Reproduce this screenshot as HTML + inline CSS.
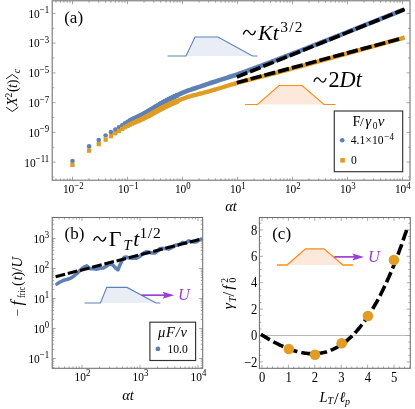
<!DOCTYPE html>
<html><head><meta charset="utf-8"><title>figure</title>
<style>
html,body{margin:0;padding:0;background:#fff;}
body{width:415px;height:409px;overflow:hidden;font-family:"Liberation Serif",serif;}
svg{display:block;will-change:transform;}
</style></head><body>
<svg width="415" height="409" viewBox="0 0 415 409">
<rect width="415" height="409" fill="#fff"/>
<rect x="52.2" y="0.8" width="357.8" height="179.39999999999998" fill="#fff" stroke="none"/>
<path d="M72.50 180.2v-3.5 M72.50 0.8v3.5 M89.06 180.2v-2 M89.06 0.8v2 M98.74 180.2v-2 M98.74 0.8v2 M105.61 180.2v-2 M105.61 0.8v2 M110.94 180.2v-2 M110.94 0.8v2 M115.30 180.2v-2 M115.30 0.8v2 M118.98 180.2v-2 M118.98 0.8v2 M122.17 180.2v-2 M122.17 0.8v2 M124.98 180.2v-2 M124.98 0.8v2 M127.50 180.2v-3.5 M127.50 0.8v3.5 M144.06 180.2v-2 M144.06 0.8v2 M153.74 180.2v-2 M153.74 0.8v2 M160.61 180.2v-2 M160.61 0.8v2 M165.94 180.2v-2 M165.94 0.8v2 M170.30 180.2v-2 M170.30 0.8v2 M173.98 180.2v-2 M173.98 0.8v2 M177.17 180.2v-2 M177.17 0.8v2 M179.98 180.2v-2 M179.98 0.8v2 M182.50 180.2v-3.5 M182.50 0.8v3.5 M199.06 180.2v-2 M199.06 0.8v2 M208.74 180.2v-2 M208.74 0.8v2 M215.61 180.2v-2 M215.61 0.8v2 M220.94 180.2v-2 M220.94 0.8v2 M225.30 180.2v-2 M225.30 0.8v2 M228.98 180.2v-2 M228.98 0.8v2 M232.17 180.2v-2 M232.17 0.8v2 M234.98 180.2v-2 M234.98 0.8v2 M237.50 180.2v-3.5 M237.50 0.8v3.5 M254.06 180.2v-2 M254.06 0.8v2 M263.74 180.2v-2 M263.74 0.8v2 M270.61 180.2v-2 M270.61 0.8v2 M275.94 180.2v-2 M275.94 0.8v2 M280.30 180.2v-2 M280.30 0.8v2 M283.98 180.2v-2 M283.98 0.8v2 M287.17 180.2v-2 M287.17 0.8v2 M289.98 180.2v-2 M289.98 0.8v2 M292.50 180.2v-3.5 M292.50 0.8v3.5 M309.06 180.2v-2 M309.06 0.8v2 M318.74 180.2v-2 M318.74 0.8v2 M325.61 180.2v-2 M325.61 0.8v2 M330.94 180.2v-2 M330.94 0.8v2 M335.30 180.2v-2 M335.30 0.8v2 M338.98 180.2v-2 M338.98 0.8v2 M342.17 180.2v-2 M342.17 0.8v2 M344.98 180.2v-2 M344.98 0.8v2 M347.50 180.2v-3.5 M347.50 0.8v3.5 M364.06 180.2v-2 M364.06 0.8v2 M373.74 180.2v-2 M373.74 0.8v2 M380.61 180.2v-2 M380.61 0.8v2 M385.94 180.2v-2 M385.94 0.8v2 M390.30 180.2v-2 M390.30 0.8v2 M393.98 180.2v-2 M393.98 0.8v2 M397.17 180.2v-2 M397.17 0.8v2 M399.98 180.2v-2 M399.98 0.8v2 M402.50 180.2v-3.5 M402.50 0.8v3.5 M55.94 180.2v-2 M55.94 0.8v2 M60.30 180.2v-2 M60.30 0.8v2 M63.98 180.2v-2 M63.98 0.8v2 M67.17 180.2v-2 M67.17 0.8v2 M69.98 180.2v-2 M69.98 0.8v2 M52.2 177.03h2 M410.0 177.03h-2 M52.2 162.15h3.5 M410.0 162.15h-3.5 M52.2 147.28h2 M410.0 147.28h-2 M52.2 132.40h3.5 M410.0 132.40h-3.5 M52.2 117.53h2 M410.0 117.53h-2 M52.2 102.65h3.5 M410.0 102.65h-3.5 M52.2 87.78h2 M410.0 87.78h-2 M52.2 72.90h3.5 M410.0 72.90h-3.5 M52.2 58.02h2 M410.0 58.02h-2 M52.2 43.15h3.5 M410.0 43.15h-3.5 M52.2 28.27h2 M410.0 28.27h-2 M52.2 13.40h3.5 M410.0 13.40h-3.5" stroke="#a0a0a0" stroke-width="0.9" fill="none"/>
<path d="M186 56 L195 37 L218 37 L252.5 56 Z" fill="#e9edf6"/>
<path d="M167.5 56 L186 56 L195 37 L218 37 L252.5 56 L257.5 56" fill="none" stroke="#5e81b5" stroke-width="1.1"/>
<path d="M257.5 104.5 L279 85.5 L302 85.5 L324 104.5 Z" fill="#fde9db"/>
<path d="M245 104.5 L257.5 104.5 L279 85.5 L302 85.5 L324 104.5 L335.5 104.5" fill="none" stroke="#ff8c1a" stroke-width="1.2"/>
<polyline points="160.0,104.1 161.6,103.2 163.3,102.3 164.9,101.4 166.5,100.5 168.1,99.7 169.8,98.9 171.4,98.1 173.0,97.3 174.7,96.5 176.3,95.7 177.9,94.9 179.5,94.2 181.2,93.4 182.8,92.7 184.4,92.0 186.1,91.4 187.7,90.7 189.3,90.1 190.9,89.6 192.6,89.0 194.2,88.5 195.8,88.0 197.4,87.4 199.1,86.9 200.7,86.4 202.3,85.8 204.0,85.2 205.6,84.7 207.2,84.1 208.8,83.6 210.5,83.0 212.1,82.5 213.7,82.0 215.4,81.5 217.0,80.9 218.6,80.4 220.2,79.9 221.9,79.4 223.5,78.9 225.1,78.4 226.8,77.9 228.4,77.3 230.0,76.8 231.6,76.3 233.3,75.8 234.9,75.2 236.5,74.7 238.2,74.1 239.8,73.5 241.4,73.0 243.0,72.4 244.7,71.8 246.3,71.2 247.9,70.6 249.6,70.0 251.2,69.4 252.8,68.8 254.4,68.2 256.1,67.6 257.7,67.0 259.3,66.4 260.9,65.8 262.6,65.2 264.2,64.5 265.8,63.9 267.5,63.3 269.1,62.7 270.7,62.1 272.3,61.4 274.0,60.8 275.6,60.2 277.2,59.6 278.9,58.9 280.5,58.3 282.1,57.7 283.7,57.1 285.4,56.4 287.0,55.8 288.6,55.2 290.3,54.6 291.9,53.9 293.5,53.3 295.1,52.7 296.8,52.1 298.4,51.4 300.0,50.8 301.7,50.2 303.3,49.5 304.9,48.9 306.5,48.3 308.2,47.6 309.8,47.0 311.4,46.3 313.0,45.7 314.7,45.1 316.3,44.4 317.9,43.8 319.6,43.1 321.2,42.5 322.8,41.9 324.4,41.2 326.1,40.6 327.7,39.9 329.3,39.3 331.0,38.6 332.6,38.0 334.2,37.3 335.8,36.7 337.5,36.1 339.1,35.4 340.7,34.8 342.4,34.1 344.0,33.5 345.6,32.8 347.2,32.2 348.9,31.5 350.5,30.9 352.1,30.2 353.8,29.6 355.4,28.9 357.0,28.3 358.6,27.6 360.3,27.0 361.9,26.3 363.5,25.7 365.2,25.0 366.8,24.4 368.4,23.7 370.0,23.1 371.7,22.4 373.3,21.8 374.9,21.1 376.5,20.5 378.2,19.8 379.8,19.2 381.4,18.5 383.1,17.9 384.7,17.3 386.3,16.6 387.9,16.0 389.6,15.3 391.2,14.7 392.8,14.0 394.5,13.4 396.1,12.7 397.7,12.1 399.3,11.4 401.0,10.8 402.6,10.2" fill="none" stroke="#5e81b5" stroke-width="4.6" stroke-linecap="round" stroke-linejoin="round"/>
<circle cx="72.5" cy="161.0" r="2.3" fill="#5e81b5"/>
<circle cx="89.1" cy="146.4" r="2.3" fill="#5e81b5"/>
<circle cx="98.7" cy="140.1" r="2.3" fill="#5e81b5"/>
<circle cx="105.6" cy="135.5" r="2.3" fill="#5e81b5"/>
<circle cx="110.9" cy="132.1" r="2.3" fill="#5e81b5"/>
<circle cx="115.3" cy="129.6" r="2.3" fill="#5e81b5"/>
<circle cx="119.0" cy="127.3" r="2.3" fill="#5e81b5"/>
<circle cx="122.2" cy="125.2" r="2.3" fill="#5e81b5"/>
<circle cx="125.0" cy="123.3" r="2.3" fill="#5e81b5"/>
<circle cx="127.5" cy="121.7" r="2.3" fill="#5e81b5"/>
<circle cx="129.8" cy="120.4" r="2.3" fill="#5e81b5"/>
<circle cx="131.9" cy="119.3" r="2.3" fill="#5e81b5"/>
<circle cx="133.8" cy="118.4" r="2.3" fill="#5e81b5"/>
<circle cx="135.5" cy="117.6" r="2.3" fill="#5e81b5"/>
<circle cx="137.2" cy="116.9" r="2.3" fill="#5e81b5"/>
<circle cx="138.7" cy="116.1" r="2.3" fill="#5e81b5"/>
<circle cx="140.2" cy="115.4" r="2.3" fill="#5e81b5"/>
<circle cx="141.5" cy="114.7" r="2.3" fill="#5e81b5"/>
<circle cx="142.8" cy="114.0" r="2.3" fill="#5e81b5"/>
<circle cx="144.1" cy="113.3" r="2.3" fill="#5e81b5"/>
<circle cx="145.2" cy="112.7" r="2.3" fill="#5e81b5"/>
<circle cx="146.3" cy="112.1" r="2.3" fill="#5e81b5"/>
<circle cx="147.4" cy="111.5" r="2.3" fill="#5e81b5"/>
<circle cx="148.4" cy="110.9" r="2.3" fill="#5e81b5"/>
<circle cx="149.4" cy="110.3" r="2.3" fill="#5e81b5"/>
<circle cx="150.3" cy="109.8" r="2.3" fill="#5e81b5"/>
<circle cx="151.2" cy="109.2" r="2.3" fill="#5e81b5"/>
<circle cx="152.1" cy="108.7" r="2.3" fill="#5e81b5"/>
<circle cx="152.9" cy="108.2" r="2.3" fill="#5e81b5"/>
<circle cx="153.7" cy="107.8" r="2.3" fill="#5e81b5"/>
<circle cx="154.5" cy="107.3" r="2.3" fill="#5e81b5"/>
<circle cx="155.3" cy="106.9" r="2.3" fill="#5e81b5"/>
<circle cx="156.0" cy="106.4" r="2.3" fill="#5e81b5"/>
<circle cx="156.7" cy="106.0" r="2.3" fill="#5e81b5"/>
<circle cx="157.4" cy="105.6" r="2.3" fill="#5e81b5"/>
<circle cx="158.1" cy="105.2" r="2.3" fill="#5e81b5"/>
<circle cx="158.8" cy="104.8" r="2.3" fill="#5e81b5"/>
<circle cx="159.4" cy="104.5" r="2.3" fill="#5e81b5"/>
<circle cx="160.0" cy="104.1" r="2.3" fill="#5e81b5"/>
<circle cx="160.6" cy="103.8" r="2.3" fill="#5e81b5"/>
<circle cx="161.2" cy="103.4" r="2.3" fill="#5e81b5"/>
<circle cx="161.8" cy="103.1" r="2.3" fill="#5e81b5"/>
<circle cx="162.3" cy="102.8" r="2.3" fill="#5e81b5"/>
<circle cx="162.9" cy="102.5" r="2.3" fill="#5e81b5"/>
<circle cx="163.4" cy="102.2" r="2.3" fill="#5e81b5"/>
<circle cx="164.0" cy="101.9" r="2.3" fill="#5e81b5"/>
<circle cx="164.5" cy="101.6" r="2.3" fill="#5e81b5"/>
<circle cx="165.0" cy="101.3" r="2.3" fill="#5e81b5"/>
<circle cx="165.5" cy="101.1" r="2.3" fill="#5e81b5"/>
<circle cx="165.9" cy="100.8" r="2.3" fill="#5e81b5"/>
<circle cx="166.4" cy="100.6" r="2.3" fill="#5e81b5"/>
<circle cx="166.9" cy="100.3" r="2.3" fill="#5e81b5"/>
<circle cx="167.3" cy="100.1" r="2.3" fill="#5e81b5"/>
<circle cx="167.8" cy="99.9" r="2.3" fill="#5e81b5"/>
<circle cx="168.2" cy="99.6" r="2.3" fill="#5e81b5"/>
<circle cx="168.7" cy="99.4" r="2.3" fill="#5e81b5"/>
<circle cx="169.1" cy="99.2" r="2.3" fill="#5e81b5"/>
<circle cx="169.5" cy="99.0" r="2.3" fill="#5e81b5"/>
<circle cx="169.9" cy="98.8" r="2.3" fill="#5e81b5"/>
<circle cx="170.3" cy="98.6" r="2.3" fill="#5e81b5"/>
<circle cx="170.7" cy="98.4" r="2.3" fill="#5e81b5"/>
<circle cx="171.1" cy="98.2" r="2.3" fill="#5e81b5"/>
<circle cx="171.5" cy="98.0" r="2.3" fill="#5e81b5"/>
<circle cx="171.8" cy="97.8" r="2.3" fill="#5e81b5"/>
<circle cx="172.2" cy="97.7" r="2.3" fill="#5e81b5"/>
<circle cx="172.6" cy="97.5" r="2.3" fill="#5e81b5"/>
<circle cx="172.9" cy="97.3" r="2.3" fill="#5e81b5"/>
<circle cx="173.3" cy="97.1" r="2.3" fill="#5e81b5"/>
<circle cx="173.6" cy="97.0" r="2.3" fill="#5e81b5"/>
<circle cx="174.0" cy="96.8" r="2.3" fill="#5e81b5"/>
<circle cx="174.3" cy="96.6" r="2.3" fill="#5e81b5"/>
<circle cx="174.7" cy="96.5" r="2.3" fill="#5e81b5"/>
<circle cx="175.0" cy="96.3" r="2.3" fill="#5e81b5"/>
<circle cx="175.3" cy="96.2" r="2.3" fill="#5e81b5"/>
<circle cx="175.6" cy="96.0" r="2.3" fill="#5e81b5"/>
<circle cx="175.9" cy="95.9" r="2.3" fill="#5e81b5"/>
<circle cx="176.3" cy="95.7" r="2.3" fill="#5e81b5"/>
<circle cx="176.6" cy="95.6" r="2.3" fill="#5e81b5"/>
<circle cx="176.9" cy="95.4" r="2.3" fill="#5e81b5"/>
<circle cx="177.2" cy="95.3" r="2.3" fill="#5e81b5"/>
<polyline points="160.0,109.3 161.6,108.4 163.3,107.6 164.9,106.7 166.5,105.9 168.1,105.2 169.8,104.4 171.4,103.7 173.0,102.9 174.7,102.2 176.3,101.5 177.9,100.8 179.5,100.1 181.2,99.4 182.8,98.8 184.4,98.2 186.1,97.6 187.7,97.0 189.3,96.5 190.9,96.1 192.6,95.6 194.2,95.2 195.8,94.8 197.4,94.4 199.1,93.9 200.7,93.5 202.3,93.1 204.0,92.6 205.6,92.2 207.2,91.8 208.8,91.3 210.5,90.9 212.1,90.4 213.7,89.9 215.4,89.5 217.0,89.0 218.6,88.5 220.2,88.0 221.9,87.5 223.5,87.0 225.1,86.5 226.8,86.0 228.4,85.5 230.0,85.0 231.6,84.5 233.3,84.1 234.9,83.6 236.5,83.1 238.2,82.7 239.8,82.2 241.4,81.8 243.0,81.4 244.7,80.9 246.3,80.5 247.9,80.1 249.6,79.6 251.2,79.2 252.8,78.8 254.4,78.4 256.1,78.0 257.7,77.5 259.3,77.1 260.9,76.7 262.6,76.3 264.2,75.9 265.8,75.5 267.5,75.1 269.1,74.6 270.7,74.2 272.3,73.8 274.0,73.4 275.6,73.0 277.2,72.5 278.9,72.1 280.5,71.7 282.1,71.2 283.7,70.8 285.4,70.4 287.0,69.9 288.6,69.5 290.3,69.1 291.9,68.6 293.5,68.2 295.1,67.7 296.8,67.3 298.4,66.9 300.0,66.4 301.7,66.0 303.3,65.5 304.9,65.1 306.5,64.6 308.2,64.2 309.8,63.8 311.4,63.3 313.0,62.9 314.7,62.4 316.3,62.0 317.9,61.5 319.6,61.1 321.2,60.6 322.8,60.2 324.4,59.7 326.1,59.3 327.7,58.8 329.3,58.4 331.0,57.9 332.6,57.5 334.2,57.0 335.8,56.6 337.5,56.1 339.1,55.7 340.7,55.2 342.4,54.8 344.0,54.3 345.6,53.9 347.2,53.4 348.9,53.0 350.5,52.5 352.1,52.1 353.8,51.6 355.4,51.2 357.0,50.7 358.6,50.3 360.3,49.8 361.9,49.4 363.5,48.9 365.2,48.5 366.8,48.0 368.4,47.6 370.0,47.1 371.7,46.7 373.3,46.2 374.9,45.8 376.5,45.3 378.2,44.9 379.8,44.4 381.4,44.0 383.1,43.5 384.7,43.1 386.3,42.6 387.9,42.2 389.6,41.7 391.2,41.3 392.8,40.8 394.5,40.4 396.1,39.9 397.7,39.5 399.3,39.0 401.0,38.6 402.6,38.1" fill="none" stroke="#e19c24" stroke-width="4.4" stroke-linecap="square" stroke-linejoin="round"/>
<rect x="70.3" y="162.7" width="4.3" height="4.3" fill="#e19c24"/>
<rect x="86.9" y="148.5" width="4.3" height="4.3" fill="#e19c24"/>
<rect x="96.6" y="142.0" width="4.3" height="4.3" fill="#e19c24"/>
<rect x="103.5" y="137.5" width="4.3" height="4.3" fill="#e19c24"/>
<rect x="108.8" y="134.0" width="4.3" height="4.3" fill="#e19c24"/>
<rect x="113.1" y="131.1" width="4.3" height="4.3" fill="#e19c24"/>
<rect x="116.8" y="128.8" width="4.3" height="4.3" fill="#e19c24"/>
<rect x="120.0" y="126.8" width="4.3" height="4.3" fill="#e19c24"/>
<rect x="122.8" y="125.1" width="4.3" height="4.3" fill="#e19c24"/>
<rect x="125.3" y="123.7" width="4.3" height="4.3" fill="#e19c24"/>
<rect x="127.6" y="122.5" width="4.3" height="4.3" fill="#e19c24"/>
<rect x="129.7" y="121.5" width="4.3" height="4.3" fill="#e19c24"/>
<rect x="131.6" y="120.6" width="4.3" height="4.3" fill="#e19c24"/>
<rect x="133.4" y="119.9" width="4.3" height="4.3" fill="#e19c24"/>
<rect x="135.0" y="119.2" width="4.3" height="4.3" fill="#e19c24"/>
<rect x="136.6" y="118.5" width="4.3" height="4.3" fill="#e19c24"/>
<rect x="138.0" y="117.9" width="4.3" height="4.3" fill="#e19c24"/>
<rect x="139.4" y="117.2" width="4.3" height="4.3" fill="#e19c24"/>
<rect x="140.7" y="116.6" width="4.3" height="4.3" fill="#e19c24"/>
<rect x="141.9" y="115.9" width="4.3" height="4.3" fill="#e19c24"/>
<rect x="143.1" y="115.3" width="4.3" height="4.3" fill="#e19c24"/>
<rect x="144.2" y="114.7" width="4.3" height="4.3" fill="#e19c24"/>
<rect x="145.2" y="114.2" width="4.3" height="4.3" fill="#e19c24"/>
<rect x="146.3" y="113.6" width="4.3" height="4.3" fill="#e19c24"/>
<rect x="147.2" y="113.1" width="4.3" height="4.3" fill="#e19c24"/>
<rect x="148.2" y="112.6" width="4.3" height="4.3" fill="#e19c24"/>
<rect x="149.1" y="112.1" width="4.3" height="4.3" fill="#e19c24"/>
<rect x="149.9" y="111.6" width="4.3" height="4.3" fill="#e19c24"/>
<rect x="150.8" y="111.1" width="4.3" height="4.3" fill="#e19c24"/>
<rect x="151.6" y="110.6" width="4.3" height="4.3" fill="#e19c24"/>
<rect x="152.4" y="110.2" width="4.3" height="4.3" fill="#e19c24"/>
<rect x="153.1" y="109.8" width="4.3" height="4.3" fill="#e19c24"/>
<rect x="153.9" y="109.4" width="4.3" height="4.3" fill="#e19c24"/>
<rect x="154.6" y="109.0" width="4.3" height="4.3" fill="#e19c24"/>
<rect x="155.3" y="108.6" width="4.3" height="4.3" fill="#e19c24"/>
<rect x="155.9" y="108.2" width="4.3" height="4.3" fill="#e19c24"/>
<rect x="156.6" y="107.9" width="4.3" height="4.3" fill="#e19c24"/>
<rect x="157.2" y="107.5" width="4.3" height="4.3" fill="#e19c24"/>
<rect x="157.9" y="107.2" width="4.3" height="4.3" fill="#e19c24"/>
<rect x="158.5" y="106.8" width="4.3" height="4.3" fill="#e19c24"/>
<rect x="159.1" y="106.5" width="4.3" height="4.3" fill="#e19c24"/>
<rect x="159.6" y="106.2" width="4.3" height="4.3" fill="#e19c24"/>
<rect x="160.2" y="105.9" width="4.3" height="4.3" fill="#e19c24"/>
<rect x="160.7" y="105.6" width="4.3" height="4.3" fill="#e19c24"/>
<rect x="161.3" y="105.3" width="4.3" height="4.3" fill="#e19c24"/>
<rect x="161.8" y="105.1" width="4.3" height="4.3" fill="#e19c24"/>
<rect x="162.3" y="104.8" width="4.3" height="4.3" fill="#e19c24"/>
<rect x="162.8" y="104.6" width="4.3" height="4.3" fill="#e19c24"/>
<rect x="163.3" y="104.3" width="4.3" height="4.3" fill="#e19c24"/>
<rect x="163.8" y="104.1" width="4.3" height="4.3" fill="#e19c24"/>
<rect x="164.3" y="103.8" width="4.3" height="4.3" fill="#e19c24"/>
<rect x="164.7" y="103.6" width="4.3" height="4.3" fill="#e19c24"/>
<rect x="165.2" y="103.4" width="4.3" height="4.3" fill="#e19c24"/>
<rect x="165.6" y="103.2" width="4.3" height="4.3" fill="#e19c24"/>
<rect x="166.1" y="103.0" width="4.3" height="4.3" fill="#e19c24"/>
<rect x="166.5" y="102.8" width="4.3" height="4.3" fill="#e19c24"/>
<rect x="166.9" y="102.6" width="4.3" height="4.3" fill="#e19c24"/>
<rect x="167.3" y="102.4" width="4.3" height="4.3" fill="#e19c24"/>
<rect x="167.7" y="102.2" width="4.3" height="4.3" fill="#e19c24"/>
<rect x="168.1" y="102.0" width="4.3" height="4.3" fill="#e19c24"/>
<rect x="168.5" y="101.8" width="4.3" height="4.3" fill="#e19c24"/>
<rect x="168.9" y="101.7" width="4.3" height="4.3" fill="#e19c24"/>
<rect x="169.3" y="101.5" width="4.3" height="4.3" fill="#e19c24"/>
<rect x="169.7" y="101.3" width="4.3" height="4.3" fill="#e19c24"/>
<rect x="170.1" y="101.1" width="4.3" height="4.3" fill="#e19c24"/>
<rect x="170.4" y="101.0" width="4.3" height="4.3" fill="#e19c24"/>
<rect x="170.8" y="100.8" width="4.3" height="4.3" fill="#e19c24"/>
<rect x="171.1" y="100.7" width="4.3" height="4.3" fill="#e19c24"/>
<rect x="171.5" y="100.5" width="4.3" height="4.3" fill="#e19c24"/>
<rect x="171.8" y="100.3" width="4.3" height="4.3" fill="#e19c24"/>
<rect x="172.2" y="100.2" width="4.3" height="4.3" fill="#e19c24"/>
<rect x="172.5" y="100.0" width="4.3" height="4.3" fill="#e19c24"/>
<rect x="172.8" y="99.9" width="4.3" height="4.3" fill="#e19c24"/>
<rect x="173.2" y="99.8" width="4.3" height="4.3" fill="#e19c24"/>
<rect x="173.5" y="99.6" width="4.3" height="4.3" fill="#e19c24"/>
<rect x="173.8" y="99.5" width="4.3" height="4.3" fill="#e19c24"/>
<rect x="174.1" y="99.3" width="4.3" height="4.3" fill="#e19c24"/>
<rect x="174.4" y="99.2" width="4.3" height="4.3" fill="#e19c24"/>
<rect x="174.7" y="99.1" width="4.3" height="4.3" fill="#e19c24"/>
<rect x="175.0" y="98.9" width="4.3" height="4.3" fill="#e19c24"/>
<line x1="236.8" y1="77" x2="404.6" y2="9.3" stroke="#000" stroke-width="3.7" stroke-dasharray="11.3 2.95"/>
<line x1="236.8" y1="82.7" x2="401.5" y2="38.4" stroke="#000" stroke-width="3.7" stroke-dasharray="11.3 2.95"/>
<rect x="52.2" y="0.8" width="357.8" height="179.39999999999998" fill="none" stroke="#6e6e6e" stroke-width="1.05"/>
<text transform="translate(73.3,193.2) scale(0.95,1.12)" font-family="Liberation Serif, serif" font-size="12" text-anchor="middle" fill="#000">10<tspan font-size="9.3" dy="-3.9">−2</tspan></text>
<text transform="translate(128.3,193.2) scale(0.95,1.12)" font-family="Liberation Serif, serif" font-size="12" text-anchor="middle" fill="#000">10<tspan font-size="9.3" dy="-3.9">−1</tspan></text>
<text transform="translate(182.8,193.2) scale(0.95,1.12)" font-family="Liberation Serif, serif" font-size="12" text-anchor="middle" fill="#000">10<tspan font-size="9.3" dy="-3.9">0</tspan></text>
<text transform="translate(237.8,193.2) scale(0.95,1.12)" font-family="Liberation Serif, serif" font-size="12" text-anchor="middle" fill="#000">10<tspan font-size="9.3" dy="-3.9">1</tspan></text>
<text transform="translate(292.8,193.2) scale(0.95,1.12)" font-family="Liberation Serif, serif" font-size="12" text-anchor="middle" fill="#000">10<tspan font-size="9.3" dy="-3.9">2</tspan></text>
<text transform="translate(347.8,193.2) scale(0.95,1.12)" font-family="Liberation Serif, serif" font-size="12" text-anchor="middle" fill="#000">10<tspan font-size="9.3" dy="-3.9">3</tspan></text>
<text transform="translate(402.8,193.2) scale(0.95,1.12)" font-family="Liberation Serif, serif" font-size="12" text-anchor="middle" fill="#000">10<tspan font-size="9.3" dy="-3.9">4</tspan></text>
<text transform="translate(49.2,166.5) scale(0.95,1.12)" font-family="Liberation Serif, serif" font-size="12" text-anchor="end" fill="#000">10<tspan font-size="9.3" dy="-3.9">−11</tspan></text>
<text transform="translate(49.2,136.7) scale(0.95,1.12)" font-family="Liberation Serif, serif" font-size="12" text-anchor="end" fill="#000">10<tspan font-size="9.3" dy="-3.9">−9</tspan></text>
<text transform="translate(49.2,107.0) scale(0.95,1.12)" font-family="Liberation Serif, serif" font-size="12" text-anchor="end" fill="#000">10<tspan font-size="9.3" dy="-3.9">−7</tspan></text>
<text transform="translate(49.2,77.2) scale(0.95,1.12)" font-family="Liberation Serif, serif" font-size="12" text-anchor="end" fill="#000">10<tspan font-size="9.3" dy="-3.9">−5</tspan></text>
<text transform="translate(49.2,47.4) scale(0.95,1.12)" font-family="Liberation Serif, serif" font-size="12" text-anchor="end" fill="#000">10<tspan font-size="9.3" dy="-3.9">−3</tspan></text>
<text transform="translate(49.2,17.7) scale(0.95,1.12)" font-family="Liberation Serif, serif" font-size="12" text-anchor="end" fill="#000">10<tspan font-size="9.3" dy="-3.9">−1</tspan></text>
<text x="64.2" y="22.6" font-family="Liberation Serif, serif" font-size="17" fill="#000">(a)</text>
<text x="231" y="211.3" font-family="Liberation Serif, serif" font-size="14.5" font-style="italic" text-anchor="middle" fill="#000">αt</text>
<g transform="translate(16.5,112.2) rotate(-90)" font-family="Liberation Serif, serif" font-size="14" fill="#000"><path d="M5 -10.3 L0.7 -4.2 L5 1.9 M33.4 -10.3 L37.7 -4.2 L33.4 1.9" fill="none" stroke="#000" stroke-width="0.9"/><text x="6.2" y="0" font-style="italic">X</text><text x="14.6" y="-5" font-size="9.5">2</text><text x="20.3" y="0">(</text><text x="24.3" y="0" font-style="italic">t</text><text x="28" y="0">)</text><text x="39" y="3" font-size="10" font-style="italic">c</text></g>
<text y="39.5" font-family="Liberation Serif, serif" font-size="22" fill="#000"><tspan x="258" font-style="italic">Kt</tspan><tspan x="280.2" y="32" font-size="15.5" letter-spacing="1.2">3/2</tspan></text>
<text y="86.5" font-family="Liberation Serif, serif" font-size="22.3" fill="#000"><tspan x="328.6">2</tspan><tspan x="339.6" font-style="italic">Dt</tspan></text>
<path d="M243.30 34.44 C245.01 29.15 247.57 29.73 249.40 32.60 C251.23 35.48 253.79 36.05 255.50 30.76" fill="none" stroke="#000" stroke-width="1.25"/>
<path d="M313.90 81.84 C315.61 76.55 318.17 77.12 320.00 80.00 C321.83 82.88 324.39 83.45 326.10 78.16" fill="none" stroke="#000" stroke-width="1.25"/>
<path d="M93.70 240.74 C95.41 235.45 97.97 236.03 99.80 238.90 C101.63 241.78 104.19 242.35 105.90 237.06" fill="none" stroke="#000" stroke-width="1.25"/>
<rect x="334.3" y="111" width="68.4" height="60.7" fill="#fff" stroke="#333" stroke-width="1.15"/>
<text y="126" font-family="Liberation Serif, serif" font-size="13.5" fill="#000"><tspan x="352.6" font-size="14.5">F</tspan><tspan x="360">/</tspan><tspan x="365.3" font-style="italic" font-size="15">γ</tspan><tspan x="372.7" font-size="9.5" dy="3">0</tspan><tspan x="377.8" dy="-3" font-style="italic" font-size="15">v</tspan></text>
<circle cx="342.2" cy="140.2" r="2.3" fill="#5e81b5"/>
<text transform="translate(350.8,143.9) scale(0.97,1.1)" font-family="Liberation Serif, serif" font-size="12" fill="#000">4.1×10<tspan font-size="9.3" dy="-4" dx="0.8">−4</tspan></text>
<rect x="340.3" y="158" width="4.6" height="4.6" fill="#e19c24"/>
<text transform="translate(351,164.2) scale(0.97,1.1)" font-family="Liberation Serif, serif" font-size="12" fill="#000">0</text>
<path d="M58.92 368.3v-2 M58.92 217.5v2 M64.54 368.3v-2 M64.54 217.5v2 M69.13 368.3v-2 M69.13 217.5v2 M73.02 368.3v-2 M73.02 217.5v2 M76.38 368.3v-2 M76.38 217.5v2 M79.35 368.3v-2 M79.35 217.5v2 M82.00 368.3v-3.5 M82.00 217.5v3.5 M99.46 368.3v-2 M99.46 217.5v2 M109.67 368.3v-2 M109.67 217.5v2 M116.92 368.3v-2 M116.92 217.5v2 M122.54 368.3v-2 M122.54 217.5v2 M127.13 368.3v-2 M127.13 217.5v2 M131.02 368.3v-2 M131.02 217.5v2 M134.38 368.3v-2 M134.38 217.5v2 M137.35 368.3v-2 M137.35 217.5v2 M140.00 368.3v-3.5 M140.00 217.5v3.5 M157.46 368.3v-2 M157.46 217.5v2 M167.67 368.3v-2 M167.67 217.5v2 M174.92 368.3v-2 M174.92 217.5v2 M180.54 368.3v-2 M180.54 217.5v2 M185.13 368.3v-2 M185.13 217.5v2 M189.02 368.3v-2 M189.02 217.5v2 M192.38 368.3v-2 M192.38 217.5v2 M195.35 368.3v-2 M195.35 217.5v2 M198.00 368.3v-3.5 M198.00 217.5v3.5 M52.2 367.53h2 M202.7 367.53h-2 M52.2 365.16h2 M202.7 365.16h-2 M52.2 363.15h2 M202.7 363.15h-2 M52.2 361.41h2 M202.7 361.41h-2 M52.2 359.87h2 M202.7 359.87h-2 M52.2 358.50h3.5 M202.7 358.50h-3.5 M52.2 349.47h2 M202.7 349.47h-2 M52.2 344.19h2 M202.7 344.19h-2 M52.2 340.44h2 M202.7 340.44h-2 M52.2 337.53h2 M202.7 337.53h-2 M52.2 335.16h2 M202.7 335.16h-2 M52.2 333.15h2 M202.7 333.15h-2 M52.2 331.41h2 M202.7 331.41h-2 M52.2 329.87h2 M202.7 329.87h-2 M52.2 328.50h3.5 M202.7 328.50h-3.5 M52.2 319.47h2 M202.7 319.47h-2 M52.2 314.19h2 M202.7 314.19h-2 M52.2 310.44h2 M202.7 310.44h-2 M52.2 307.53h2 M202.7 307.53h-2 M52.2 305.16h2 M202.7 305.16h-2 M52.2 303.15h2 M202.7 303.15h-2 M52.2 301.41h2 M202.7 301.41h-2 M52.2 299.87h2 M202.7 299.87h-2 M52.2 298.50h3.5 M202.7 298.50h-3.5 M52.2 289.47h2 M202.7 289.47h-2 M52.2 284.19h2 M202.7 284.19h-2 M52.2 280.44h2 M202.7 280.44h-2 M52.2 277.53h2 M202.7 277.53h-2 M52.2 275.16h2 M202.7 275.16h-2 M52.2 273.15h2 M202.7 273.15h-2 M52.2 271.41h2 M202.7 271.41h-2 M52.2 269.87h2 M202.7 269.87h-2 M52.2 268.50h3.5 M202.7 268.50h-3.5 M52.2 259.47h2 M202.7 259.47h-2 M52.2 254.19h2 M202.7 254.19h-2 M52.2 250.44h2 M202.7 250.44h-2 M52.2 247.53h2 M202.7 247.53h-2 M52.2 245.16h2 M202.7 245.16h-2 M52.2 243.15h2 M202.7 243.15h-2 M52.2 241.41h2 M202.7 241.41h-2 M52.2 239.87h2 M202.7 239.87h-2 M52.2 238.50h3.5 M202.7 238.50h-3.5 M52.2 229.47h2 M202.7 229.47h-2 M52.2 224.19h2 M202.7 224.19h-2 M52.2 220.44h2 M202.7 220.44h-2 M52.2 217.53h2 M202.7 217.53h-2" stroke="#a0a0a0" stroke-width="0.9" fill="none"/>
<path d="M100.4 303 L106.8 287.4 L127 287.4 L156 303 Z" fill="#e9edf6"/>
<path d="M84.5 303 L100.4 303 L106.8 287.4 L127 287.4 L156 303 L160.3 303" fill="none" stroke="#5e81b5" stroke-width="1.1"/>
<path d="M141.5 295.2 H166" stroke="#9c3cd8" stroke-width="1.7" fill="none"/>
<path d="M174.2 295.2 L162.5 291.7 L164.8 295.2 L162.5 298.7 Z" fill="#9c3cd8"/>
<text x="178.1" y="300.4" font-family="Liberation Serif, serif" font-size="16.3" font-style="italic" fill="#9c3cd8">U</text>
<polyline points="56.8,284.1 60,282 63.6,280.3 67,279.5 71.3,277.8 74,276 77,273.5 79.5,271 81.9,268.7 84,267 86.7,265.8 88.5,267.5 90.5,268.7 93,268.6 96.3,269.3 100,268.2 103,268.1 106,266.5 109.8,263.9 112,264.5 113.7,265.8 116,268.5 117.9,270 119.5,266 122.3,260 124,257.5 126,257.0 128,257.7 130,258.0 133,258.3 136.6,258.2 140,256.3 143,253.6 146,251.8 148,252.0 150,252.6 152.5,253.0 155,253.0 158,250.7 160,248.5 162.5,248.6 165,248.6 169,248.9 173,246.9 176,245.0 178,245.2 180.5,243.8 183,242.4 186,242.9 188.6,240.8 190.5,241.5 192,241.7 194.5,241.9 197,241.7 199,240.2 201,239.1" fill="none" stroke="#5e81b5" stroke-width="3.5" stroke-linecap="round" stroke-linejoin="round"/>
<line x1="55.6" y1="276.7" x2="201.2" y2="239" stroke="#000" stroke-width="3.1" stroke-dasharray="9.8 2.8"/>
<rect x="52.2" y="217.5" width="150.5" height="150.8" fill="none" stroke="#6e6e6e" stroke-width="1.05"/>
<text transform="translate(82.4,380.8) scale(0.95,1.12)" font-family="Liberation Serif, serif" font-size="12" text-anchor="middle" fill="#000">10<tspan font-size="9.3" dy="-3.9">2</tspan></text>
<text transform="translate(140.4,380.8) scale(0.95,1.12)" font-family="Liberation Serif, serif" font-size="12" text-anchor="middle" fill="#000">10<tspan font-size="9.3" dy="-3.9">3</tspan></text>
<text transform="translate(198.4,380.8) scale(0.95,1.12)" font-family="Liberation Serif, serif" font-size="12" text-anchor="middle" fill="#000">10<tspan font-size="9.3" dy="-3.9">4</tspan></text>
<text transform="translate(49.2,362.8) scale(0.95,1.12)" font-family="Liberation Serif, serif" font-size="12" text-anchor="end" fill="#000">10<tspan font-size="9.3" dy="-3.9">−1</tspan></text>
<text transform="translate(49.2,332.8) scale(0.95,1.12)" font-family="Liberation Serif, serif" font-size="12" text-anchor="end" fill="#000">10<tspan font-size="9.3" dy="-3.9">0</tspan></text>
<text transform="translate(49.2,302.8) scale(0.95,1.12)" font-family="Liberation Serif, serif" font-size="12" text-anchor="end" fill="#000">10<tspan font-size="9.3" dy="-3.9">1</tspan></text>
<text transform="translate(49.2,272.8) scale(0.95,1.12)" font-family="Liberation Serif, serif" font-size="12" text-anchor="end" fill="#000">10<tspan font-size="9.3" dy="-3.9">2</tspan></text>
<text transform="translate(49.2,242.8) scale(0.95,1.12)" font-family="Liberation Serif, serif" font-size="12" text-anchor="end" fill="#000">10<tspan font-size="9.3" dy="-3.9">3</tspan></text>
<text x="64.6" y="239.2" font-family="Liberation Serif, serif" font-size="17" fill="#000">(b)</text>
<text x="128" y="399.7" font-family="Liberation Serif, serif" font-size="14.5" font-style="italic" text-anchor="middle" fill="#000">αt</text>
<g transform="translate(21.8,316.3) rotate(-90)" font-family="Liberation Serif, serif" font-size="14.5" fill="#000"><text x="-0.3" y="0" font-size="13">−</text><text x="10.8" y="0" font-style="italic" font-size="17">f</text><text x="18.2" y="3.6" font-size="10" textLength="11.2" lengthAdjust="spacingAndGlyphs">fric</text><text x="30.4" y="0">(</text><text x="35.8" y="0" font-style="italic">t</text><text x="39.9" y="0">)</text><text x="44.6" y="0" font-size="15.5">/</text><text x="48.7" y="0" font-style="italic">U</text></g>
<text y="245.8" font-family="Liberation Serif, serif" font-size="22" fill="#000"><tspan x="108.7">Γ</tspan><tspan x="123.6" y="249.7" font-size="14.5" font-style="italic">T</tspan><tspan x="133.2" y="245.8" font-style="italic">t</tspan><tspan x="139.4" y="238.1" font-size="15.5" letter-spacing="0.8">1/2</tspan></text>
<rect x="149.9" y="322.2" width="45.7" height="38.3" fill="#fff" stroke="#333" stroke-width="1.15"/>
<text x="158" y="336.9" font-family="Liberation Serif, serif" font-size="14.5" font-style="italic" letter-spacing="0.8" fill="#000">μF/ν</text>
<circle cx="157.9" cy="348.9" r="2.4" fill="#5e81b5"/>
<text transform="translate(167.4,352.8) scale(0.97,1.1)" font-family="Liberation Serif, serif" font-size="12" fill="#000">10.0</text>
<path d="M262.00 368.3v-3.5 M262.00 217.5v3.5 M267.28 368.3v-2 M267.28 217.5v2 M272.56 368.3v-2 M272.56 217.5v2 M277.84 368.3v-2 M277.84 217.5v2 M283.12 368.3v-2 M283.12 217.5v2 M288.40 368.3v-3.5 M288.40 217.5v3.5 M293.68 368.3v-2 M293.68 217.5v2 M298.96 368.3v-2 M298.96 217.5v2 M304.24 368.3v-2 M304.24 217.5v2 M309.52 368.3v-2 M309.52 217.5v2 M314.80 368.3v-3.5 M314.80 217.5v3.5 M320.08 368.3v-2 M320.08 217.5v2 M325.36 368.3v-2 M325.36 217.5v2 M330.64 368.3v-2 M330.64 217.5v2 M335.92 368.3v-2 M335.92 217.5v2 M341.20 368.3v-3.5 M341.20 217.5v3.5 M346.48 368.3v-2 M346.48 217.5v2 M351.76 368.3v-2 M351.76 217.5v2 M357.04 368.3v-2 M357.04 217.5v2 M362.32 368.3v-2 M362.32 217.5v2 M367.60 368.3v-3.5 M367.60 217.5v3.5 M372.88 368.3v-2 M372.88 217.5v2 M378.16 368.3v-2 M378.16 217.5v2 M383.44 368.3v-2 M383.44 217.5v2 M388.72 368.3v-2 M388.72 217.5v2 M394.00 368.3v-3.5 M394.00 217.5v3.5 M399.28 368.3v-2 M399.28 217.5v2 M404.56 368.3v-2 M404.56 217.5v2 M409.84 368.3v-2 M409.84 217.5v2 M259.4 361.90h3.5 M410.3 361.90h-3.5 M259.4 355.30h2 M410.3 355.30h-2 M259.4 348.70h2 M410.3 348.70h-2 M259.4 342.10h2 M410.3 342.10h-2 M259.4 335.50h3.5 M410.3 335.50h-3.5 M259.4 328.90h2 M410.3 328.90h-2 M259.4 322.30h2 M410.3 322.30h-2 M259.4 315.70h2 M410.3 315.70h-2 M259.4 309.10h3.5 M410.3 309.10h-3.5 M259.4 302.50h2 M410.3 302.50h-2 M259.4 295.90h2 M410.3 295.90h-2 M259.4 289.30h2 M410.3 289.30h-2 M259.4 282.70h3.5 M410.3 282.70h-3.5 M259.4 276.10h2 M410.3 276.10h-2 M259.4 269.50h2 M410.3 269.50h-2 M259.4 262.90h2 M410.3 262.90h-2 M259.4 256.30h3.5 M410.3 256.30h-3.5 M259.4 249.70h2 M410.3 249.70h-2 M259.4 243.10h2 M410.3 243.10h-2 M259.4 236.50h2 M410.3 236.50h-2 M259.4 229.90h3.5 M410.3 229.90h-3.5 M259.4 223.30h2 M410.3 223.30h-2" stroke="#a0a0a0" stroke-width="0.9" fill="none"/>
<line x1="259.4" y1="335.5" x2="410.3" y2="335.5" stroke="#a6a6a6" stroke-width="0.8"/>
<path d="M287 265 L305.5 248.8 L324 248.8 L343 265 Z" fill="#fde9db"/>
<path d="M277 265 L287 265 L305.5 248.8 L324 248.8 L343 265 L353 265" fill="none" stroke="#ff8c1a" stroke-width="1.3"/>
<path d="M334.3 256.9 H356" stroke="#9c3cd8" stroke-width="1.7" fill="none"/>
<path d="M364 256.9 L352.3 253.4 L354.6 256.9 L352.3 260.4 Z" fill="#9c3cd8"/>
<text x="368" y="262.3" font-family="Liberation Serif, serif" font-size="16.3" font-style="italic" fill="#9c3cd8">U</text>
<polyline points="260.9,334.4 262.2,335.2 263.4,335.9 264.6,336.7 265.9,337.4 267.1,338.1 268.3,338.9 269.5,339.6 270.8,340.3 272.0,340.9 273.2,341.6 274.5,342.3 275.7,342.9 276.9,343.5 278.2,344.2 279.4,344.8 280.6,345.4 281.8,345.9 283.1,346.5 284.3,347.0 285.5,347.5 286.8,348.1 288.0,348.5 289.2,349.0 290.4,349.5 291.7,349.9 292.9,350.3 294.1,350.7 295.4,351.1 296.6,351.4 297.8,351.7 299.0,352.0 300.3,352.3 301.5,352.6 302.7,352.8 304.0,353.0 305.2,353.2 306.4,353.3 307.6,353.5 308.9,353.6 310.1,353.6 311.3,353.7 312.6,353.7 313.8,353.7 315.0,353.7 316.3,353.6 317.5,353.5 318.7,353.3 319.9,353.2 321.2,353.0 322.4,352.7 323.6,352.5 324.9,352.2 326.1,351.9 327.3,351.5 328.5,351.1 329.8,350.7 331.0,350.2 332.2,349.7 333.5,349.1 334.7,348.5 335.9,347.9 337.1,347.2 338.4,346.5 339.6,345.8 340.8,345.0 342.1,344.2 343.3,343.3 344.5,342.4 345.7,341.5 347.0,340.5 348.2,339.4 349.4,338.4 350.7,337.2 351.9,336.1 353.1,334.8 354.4,333.6 355.6,332.3 356.8,330.9 358.0,329.5 359.3,328.0 360.5,326.5 361.7,325.0 363.0,323.4 364.2,321.7 365.4,320.0 366.6,318.3 367.9,316.5 369.1,314.6 370.3,312.7 371.6,310.7 372.8,308.7 374.0,306.6 375.2,304.5 376.5,302.3 377.7,300.1 378.9,297.8 380.2,295.4 381.4,293.0 382.6,290.5 383.8,288.0 385.1,285.4 386.3,282.8 387.5,280.1 388.8,277.3 390.0,274.5 391.2,271.6 392.5,268.6 393.7,265.6 394.9,262.5 396.1,259.3 397.4,256.1 398.6,252.9 399.8,249.5 401.1,246.1 402.3,242.6 403.5,239.1 404.7,235.5 406.0,231.8 407.2,228.1" fill="none" stroke="#000" stroke-width="3.6" stroke-dasharray="11 4" stroke-dashoffset="0.5"/>
<circle cx="288.8" cy="349" r="5.3" fill="#e19c24"/>
<circle cx="315" cy="354.7" r="5.3" fill="#e19c24"/>
<circle cx="341.7" cy="343.2" r="5.3" fill="#e19c24"/>
<circle cx="367.9" cy="316" r="5.3" fill="#e19c24"/>
<circle cx="393.9" cy="260" r="5.3" fill="#e19c24"/>
<rect x="259.4" y="217.5" width="150.90000000000003" height="150.8" fill="none" stroke="#6e6e6e" stroke-width="1.05"/>
<text transform="translate(262.2,382.4) scale(0.97,1.1)" font-family="Liberation Serif, serif" font-size="13" text-anchor="middle" fill="#000">0</text>
<text transform="translate(288.6,382.4) scale(0.97,1.1)" font-family="Liberation Serif, serif" font-size="13" text-anchor="middle" fill="#000">1</text>
<text transform="translate(315.0,382.4) scale(0.97,1.1)" font-family="Liberation Serif, serif" font-size="13" text-anchor="middle" fill="#000">2</text>
<text transform="translate(341.4,382.4) scale(0.97,1.1)" font-family="Liberation Serif, serif" font-size="13" text-anchor="middle" fill="#000">3</text>
<text transform="translate(367.8,382.4) scale(0.97,1.1)" font-family="Liberation Serif, serif" font-size="13" text-anchor="middle" fill="#000">4</text>
<text transform="translate(394.2,382.4) scale(0.97,1.1)" font-family="Liberation Serif, serif" font-size="13" text-anchor="middle" fill="#000">5</text>
<text transform="translate(257.3,366.5) scale(0.97,1.1)" font-family="Liberation Serif, serif" font-size="13" text-anchor="end" fill="#000">−2</text>
<text transform="translate(257.3,340.1) scale(0.97,1.1)" font-family="Liberation Serif, serif" font-size="13" text-anchor="end" fill="#000">0</text>
<text transform="translate(257.3,313.7) scale(0.97,1.1)" font-family="Liberation Serif, serif" font-size="13" text-anchor="end" fill="#000">2</text>
<text transform="translate(257.3,287.3) scale(0.97,1.1)" font-family="Liberation Serif, serif" font-size="13" text-anchor="end" fill="#000">4</text>
<text transform="translate(257.3,260.9) scale(0.97,1.1)" font-family="Liberation Serif, serif" font-size="13" text-anchor="end" fill="#000">6</text>
<text transform="translate(257.3,234.5) scale(0.97,1.1)" font-family="Liberation Serif, serif" font-size="13" text-anchor="end" fill="#000">8</text>
<text x="272.2" y="239.4" font-family="Liberation Serif, serif" font-size="17" fill="#000">(c)</text>
<text y="401.5" font-family="Liberation Serif, serif" font-size="14.5" font-style="italic" fill="#000"><tspan x="319.6">L</tspan><tspan x="327.6" y="404.1" font-size="10">T</tspan><tspan x="334" y="403.6" font-size="17" font-style="normal">/</tspan><tspan x="339.3" y="401.5">ℓ</tspan><tspan x="345.1" y="405" font-size="10">p</tspan></text>
<g transform="translate(233.2,309) rotate(-90)" font-family="Liberation Serif, serif" font-size="14.5" font-style="italic" fill="#000"><text x="-0.3" y="0" font-size="15.5">γ</text><text x="6.8" y="2.7" font-size="10">T</text><text x="12.4" y="1" font-size="17" font-style="normal">/</text><text x="19.3" y="0" font-size="15.5">f</text><text x="26.3" y="-5" font-size="9.5" font-style="normal">2</text><text x="26.5" y="3.2" font-size="9.5" font-style="normal">0</text></g>
</svg>
</body></html>
